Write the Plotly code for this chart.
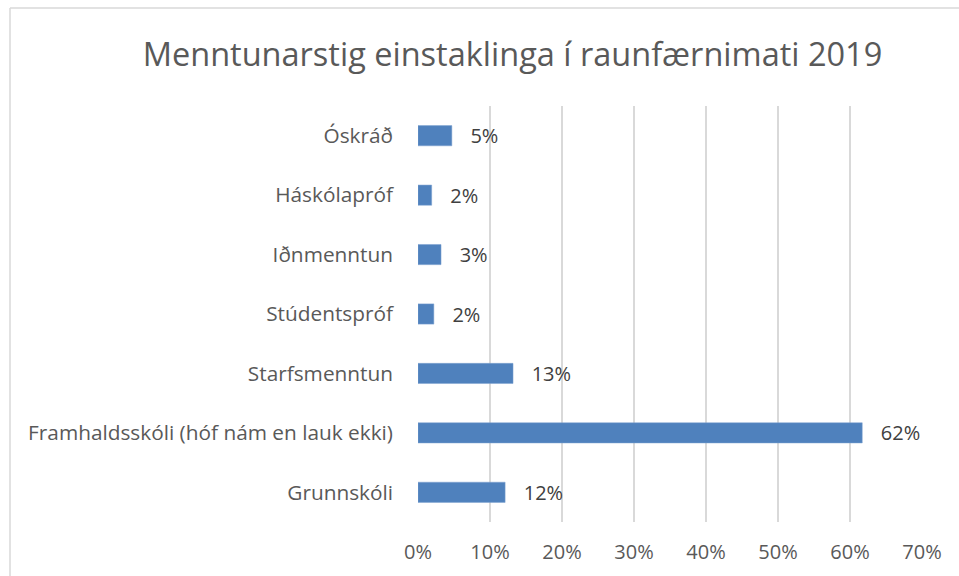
import plotly.graph_objects as go

categories = ["Grunnskóli", "Framhaldsskóli (hóf nám en lauk ekki)", "Starfsmenntun",
              "Stúdentspróf", "Iðnmenntun", "Háskólapróf", "Óskráð"]
values = [0.121, 0.617, 0.132, 0.022, 0.032, 0.019, 0.047]
labels = ["12%", "62%", "13%", "2%", "3%", "2%", "5%"]
x_ticks = [0, 0.1, 0.2, 0.3, 0.4, 0.5, 0.6, 0.7]
x_ticktext = ["0%", "10%", "20%", "30%", "40%", "50%", "60%", "70%"]
title_text = "Menntunarstig einstaklinga í raunfærnimati 2019"

fig = go.Figure()
fig.add_trace(go.Bar(
    y=categories, x=values, orientation="h",
    marker=dict(color="#4F81BD", line=dict(color="#7FA3D0", width=0.5)),
    text=["\u00a0\u00a0\u00a0" + t for t in labels], textposition="outside",
    constraintext="none",
    textfont=dict(family="Open Sans", size=20, color="#404040"),
    cliponaxis=False, hoverinfo="skip",
))

W, H = 959, 576
L, R, T, B = 418, 37, 106, 54
pw, ph = W - L - R, H - T - B

def px_x(p):
    return (p - L) / pw

def px_y(p):
    return 1 - (p - T) / ph

fig.update_layout(
    width=W, height=H,
    margin=dict(l=L, r=R, t=T, b=B),
    paper_bgcolor="white", plot_bgcolor="white",
    showlegend=False,
    bargap=0.66,
    title=dict(text=title_text, x=(143 + 882) / 2 / W, xanchor="center",
               y=1 - 55 / H, yanchor="middle",
               font=dict(family="Open Sans", size=32.5, color="#595959")),
    xaxis=dict(range=[0, 0.7], tickvals=x_ticks, ticktext=x_ticktext,
               showgrid=True, gridcolor="#D9D9D9", gridwidth=1.5,
               zeroline=False, showline=False, ticks="",
               ticklabelstandoff=16,
               tickfont=dict(family="Open Sans", size=20, color="#595959"),
               fixedrange=True),
    yaxis=dict(categoryorder="array", categoryarray=categories,
               showgrid=False, zeroline=False, showline=False, ticks="",
               ticklabelstandoff=24,
               tickfont=dict(family="Open Sans", size=20.8, color="#595959"),
               fixedrange=True),
    shapes=[
        dict(type="line", xref="paper", yref="paper",
             x0=px_x(10), x1=px_x(959), y0=px_y(8), y1=px_y(8),
             line=dict(color="#D9D9D9", width=1.5)),
        dict(type="line", xref="paper", yref="paper",
             x0=px_x(10), x1=px_x(10), y0=px_y(8), y1=px_y(576),
             line=dict(color="#D9D9D9", width=1.5)),
    ],
)

fig.write_html("out.html", config={"displayModeBar": False},
               post_script="document.body.style.margin='0';document.body.style.overflow='hidden';")
